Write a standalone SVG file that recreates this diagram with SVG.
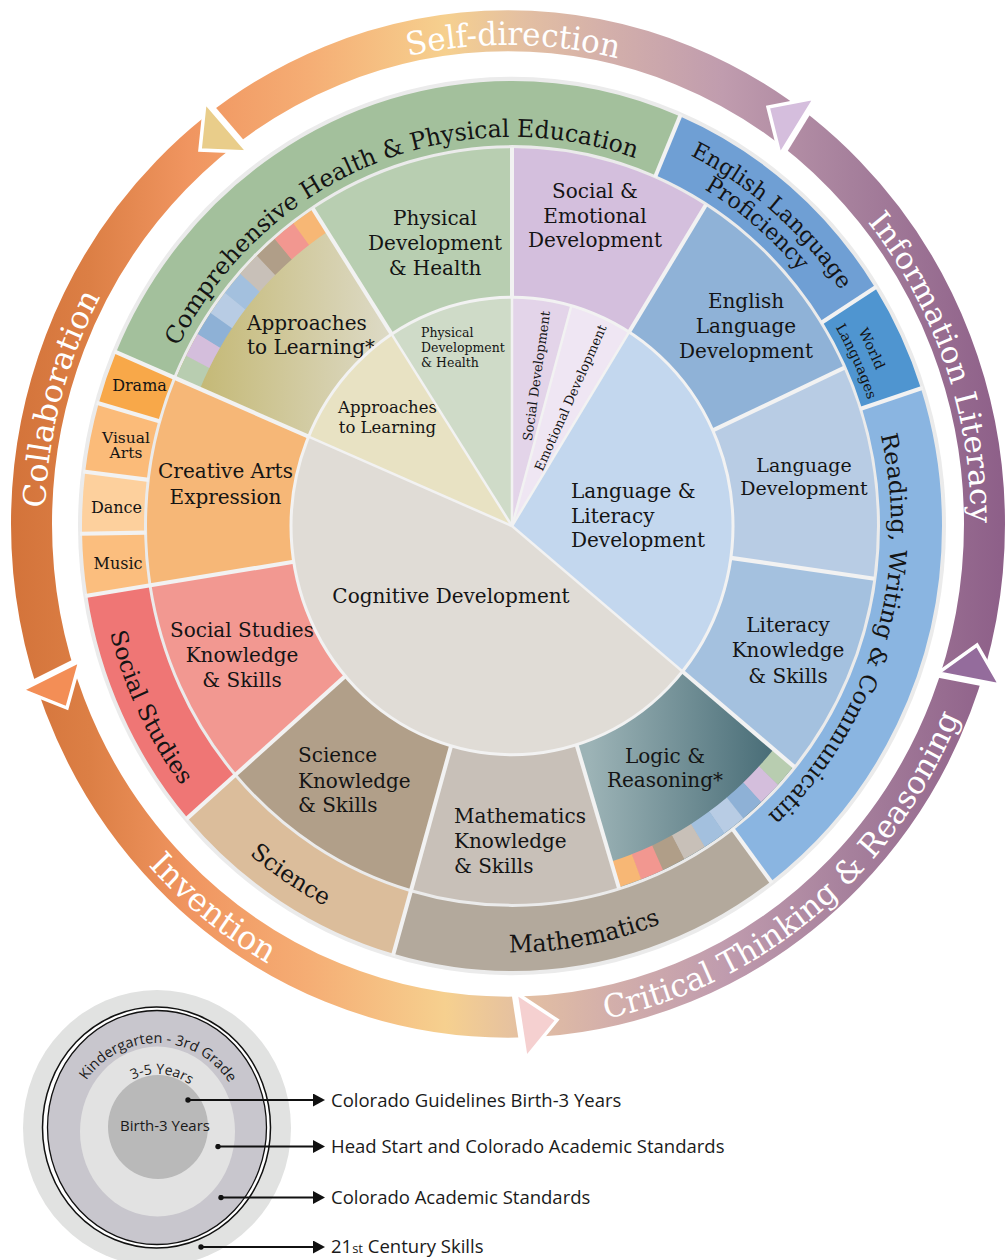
<svg xmlns="http://www.w3.org/2000/svg" width="1005" height="1260" viewBox="0 0 1005 1260">
<defs>
<style>
.s{font-family:"DejaVu Serif","Liberation Serif",serif;fill:#141414}
.w{font-family:"DejaVu Serif","Liberation Serif",serif;fill:#fff}
.l{font-family:"Open Sans",Lato,sans-serif;fill:#1a1a1a}
.m{font-size:20px;text-anchor:middle}
.f{font-size:20px}
.sm{font-size:16px;text-anchor:middle}
</style>
<linearGradient id="ringGrad" gradientUnits="userSpaceOnUse" x1="10" y1="0" x2="1000" y2="0">
<stop offset="0" stop-color="#d3733a"/>
<stop offset="0.08" stop-color="#dc7f45"/>
<stop offset="0.18" stop-color="#f09560"/>
<stop offset="0.3" stop-color="#f5ad74"/>
<stop offset="0.44" stop-color="#f6d08f"/>
<stop offset="0.52" stop-color="#e3bfa2"/>
<stop offset="0.6" stop-color="#d4b0aa"/>
<stop offset="0.72" stop-color="#c09cae"/>
<stop offset="0.85" stop-color="#a6809c"/>
<stop offset="1" stop-color="#8e6089"/>
</linearGradient>
<linearGradient id="appGrad" gradientUnits="userSpaceOnUse" x1="-317" y1="0" x2="-122" y2="0">
<stop offset="0" stop-color="#c4b874"/>
<stop offset="1" stop-color="#dddac6"/>
</linearGradient>
<linearGradient id="logGrad" gradientUnits="userSpaceOnUse" x1="78" y1="0" x2="258" y2="0">
<stop offset="0" stop-color="#9cb3b6"/>
<stop offset="1" stop-color="#4a6e78"/>
</linearGradient>
<path id="c110" fill="none" pathLength="360" d="M110.5,0 A110.5,110.5 0 1 1 -110.5,0 A110.5,110.5 0 1 1 110.5,0"/>
<path id="c293" fill="none" pathLength="360" d="M293,0 A293,293 0 1 1 -293,0 A293,293 0 1 1 293,0"/>
<path id="c352" fill="none" pathLength="360" d="M352,0 A352,352 0 1 1 -352,0 A352,352 0 1 1 352,0"/>
<path id="c399" fill="none" pathLength="360" d="M399,0 A399,399 0 1 1 -399,0 A399,399 0 1 1 399,0"/>
<path id="oCW" d="M0,463 A463,463 0 1 1 0,-463 A463,463 0 1 1 0,463"/>
<path id="oCCW" d="M0,-488 A488,488 0 1 0 0,488 A488,488 0 1 0 0,-488"/>
<path id="r376" d="M0,376 A376,376 0 1 1 0,-376 A376,376 0 1 1 0,376"/>
<path id="r378" d="M0,378 A378,378 0 1 1 0,-378 A378,378 0 1 1 0,378"/>
<path id="r379" d="M0,379 A379,379 0 1 1 0,-379 A379,379 0 1 1 0,379"/>
<path id="r394" d="M0,394 A394,394 0 1 1 0,-394 A394,394 0 1 1 0,394"/>
<path id="r400" d="M0,400 A400,400 0 1 1 0,-400 A400,400 0 1 1 0,400"/>
<path id="q412" d="M0,-412 A412,412 0 1 0 0,412 A412,412 0 1 0 0,-412"/>
<path id="q415" d="M0,-415 A415,415 0 1 0 0,415 A415,415 0 1 0 0,-415"/>
<path id="lgK" d="M157,1213 A85,85 0 1 1 157,1043 A85,85 0 1 1 157,1213"/>
<path id="lg35" d="M157,1186 A56,56 0 1 1 157,1074 A56,56 0 1 1 157,1186"/>
<marker id="ah" markerUnits="userSpaceOnUse" viewBox="0 0 12 13" refX="2" refY="6.5" markerWidth="12" markerHeight="13" orient="auto"><path d="M0,0 L12,6.5 L0,13 z" fill="#111"/></marker>
<marker id="dot" markerUnits="userSpaceOnUse" viewBox="0 0 6 6" refX="3" refY="3" markerWidth="6" markerHeight="6"><circle cx="3" cy="3" r="2.7" fill="#111"/></marker>
</defs>

<rect width="1005" height="1260" fill="#fff"/>

<!-- 21st century skills ring -->
<g id="skills-ring">
<ellipse cx="508" cy="524" rx="476.5" ry="493.2" fill="none" stroke="url(#ringGrad)" stroke-width="41"/>
</g>
<g id="skill-self-direction">
<text class="w" font-size="31" text-anchor="middle" transform="translate(508 524) scale(1 1.035)"><textPath href="#oCW" startOffset="50.17%">Self-direction</textPath></text>
<line x1="205" y1="102" x2="248" y2="152" stroke="#fff" stroke-width="9"/>
<polygon points="205,102 248,152 200,150" fill="#e9cd8a" stroke="#fff" stroke-width="3.5"/>
</g>
<g id="skill-collaboration">
<text class="w" font-size="31" text-anchor="middle" transform="translate(508 524) scale(1 1.035)"><textPath href="#oCW" startOffset="29.2%">Collaboration</textPath></text>
<line x1="22" y1="690" x2="80" y2="661" stroke="#fff" stroke-width="9"/>
<polygon points="22,690 80,661 67,708" fill="#f38e56" stroke="#fff" stroke-width="3.5"/>
</g>
<g id="skill-invention">
<text class="w" font-size="32" text-anchor="middle" transform="translate(508 524) scale(1 1.035)"><textPath href="#oCCW" startOffset="39.31%">Invention</textPath></text>
<line x1="516" y1="993" x2="526" y2="1058" stroke="#fff" stroke-width="9"/>
<polygon points="516,993 526,1058 557,1020" fill="#f5d0d0" stroke="#fff" stroke-width="3.5"/>
</g>
<g id="skill-critical-thinking">
<text class="w" font-size="31" text-anchor="middle" transform="translate(508 524) scale(1 1.035)"><textPath href="#oCCW" startOffset="60.99%">Critical Thinking &amp; Reasoning</textPath></text>
<line x1="938" y1="673" x2="1000" y2="685" stroke="#fff" stroke-width="9"/>
<polygon points="938,673 1000,685 977,645" fill="#946c9c" stroke="#fff" stroke-width="3.5"/>
</g>
<g id="skill-information-literacy">
<text class="w" font-size="30" text-anchor="middle" transform="translate(508 524) scale(1 1.035)"><textPath href="#oCW" startOffset="69.56%">Information Literacy</textPath></text>
<line x1="815" y1="98" x2="780" y2="155" stroke="#fff" stroke-width="9"/>
<polygon points="815,98 780,155 768,107" fill="#d5bedd" stroke="#fff" stroke-width="3.5"/>
</g>

<!-- wheel background -->
<circle cx="0" cy="0" r="434" fill="#ebebeb" transform="translate(512 526) scale(1 1.035)"/>

<!-- content areas ring -->
<g id="comprehensive-health-pe">
<use href="#c399" transform="translate(512 526) scale(1 1.035)" stroke="#a3c09c" stroke-width="62" stroke-dasharray="90 270" stroke-dashoffset="157"/>
<text class="s" font-size="23.5" text-anchor="middle" transform="translate(512 526) scale(1 1.035)"><textPath href="#r376" startOffset="43.97%">Comprehensive Health &amp; Physical Education</textPath></text>
</g>
<g id="english-language-proficiency">
<use href="#c399" transform="translate(512 526) scale(1 1.035)" stroke="#6f9fd4" stroke-width="62" stroke-dasharray="34.6 325.4" stroke-dashoffset="67"/>
<text class="s" font-size="22" text-anchor="middle" transform="translate(512 526) scale(1 1.035)"><textPath href="#r400" startOffset="61.36%">English Language</textPath></text>
<text class="s" font-size="22" text-anchor="middle" transform="translate(512 526) scale(1 1.035)"><textPath href="#r378" startOffset="61.11%">Proficiency</textPath></text>
</g>
<g id="world-languages">
<use href="#c399" transform="translate(512 526) scale(1 1.035)" stroke="#4f95d0" stroke-width="62" stroke-dasharray="14.4 345.6" stroke-dashoffset="32.4"/>
<text class="s" font-size="14" text-anchor="middle" transform="translate(512 526) scale(1 1.035)"><textPath href="#r394" startOffset="67.92%">World</textPath></text>
<text class="s" font-size="14" text-anchor="middle" transform="translate(512 526) scale(1 1.035)"><textPath href="#r376" startOffset="68.11%">Languages</textPath></text>
</g>
<g id="reading-writing-communication">
<use href="#c399" transform="translate(512 526) scale(1 1.035)" stroke="#8ab5e1" stroke-width="62" stroke-dasharray="71 289" stroke-dashoffset="18"/>
<text class="s" font-size="23" text-anchor="middle" transform="translate(512 526) scale(1 1.035)"><textPath href="#r379" startOffset="79.74%">Reading, Writing &amp; Communicatin</textPath></text>
</g>
<g id="mathematics">
<use href="#c399" transform="translate(512 526) scale(1 1.035)" stroke="#b3a99c" stroke-width="62" stroke-dasharray="53 307" stroke-dashoffset="307"/>
<text class="s" font-size="23.5" text-anchor="middle" transform="translate(512 526) scale(1 1.035)"><textPath href="#q412" startOffset="52.88%">Mathematics</textPath></text>
</g>
<g id="science">
<use href="#c399" transform="translate(512 526) scale(1 1.035)" stroke="#dbbd9b" stroke-width="62" stroke-dasharray="33 327" stroke-dashoffset="254"/>
<text class="s" font-size="23" text-anchor="middle" transform="translate(512 526) scale(1 1.035)"><textPath href="#q412" startOffset="40.75%">Science</textPath></text>
</g>
<g id="social-studies">
<use href="#c399" transform="translate(512 526) scale(1 1.035)" stroke="#ef7675" stroke-width="62" stroke-dasharray="32 328" stroke-dashoffset="221"/>
<text class="s" font-size="23" text-anchor="middle" transform="translate(512 526) scale(1 1.035)"><textPath href="#q415" startOffset="32.17%">Social Studies</textPath></text>
</g>
<g id="music">
<use href="#c399" transform="translate(512 526) scale(1 1.035)" stroke="#fbbe7e" stroke-width="62" stroke-dasharray="8 352" stroke-dashoffset="189"/>
<text class="s sm" x="118" y="569">Music</text>
</g>
<g id="dance">
<use href="#c399" transform="translate(512 526) scale(1 1.035)" stroke="#fdd09d" stroke-width="62" stroke-dasharray="8 352" stroke-dashoffset="181"/>
<text class="s sm" x="116.5" y="513">Dance</text>
</g>
<g id="visual-arts">
<use href="#c399" transform="translate(512 526) scale(1 1.035)" stroke="#fbbb79" stroke-width="62" stroke-dasharray="9 351" stroke-dashoffset="173"/>
<text class="s sm" style="font-size:15.5px"><tspan x="126" y="443">Visual</tspan><tspan x="126" y="458">Arts</tspan></text>
</g>
<g id="drama">
<use href="#c399" transform="translate(512 526) scale(1 1.035)" stroke="#f8a849" stroke-width="62" stroke-dasharray="7 353" stroke-dashoffset="164"/>
<text class="s sm" x="139.5" y="391">Drama</text>
</g>

<!-- middle ring -->
<g id="creative-arts-expression">
<use href="#c293" transform="translate(512 526) scale(1 1.035)" stroke="#f6b777" stroke-width="144" stroke-dasharray="32 328" stroke-dashoffset="189"/>
<text class="s m"><tspan x="225.5" y="478">Creative Arts</tspan><tspan x="225.5" y="504">Expression</tspan></text>
</g>
<g id="approaches-to-learning-star">
<use href="#c293" transform="translate(512 526) scale(1 1.035)" stroke="url(#appGrad)" stroke-width="144" stroke-dasharray="34 326" stroke-dashoffset="157"/>
<g transform="translate(512 526) scale(1 1.035)" stroke-width="26" stroke-dasharray="3.85 356.15">
<use href="#c352" stroke="#b8cdb0" stroke-dashoffset="157"/>
<use href="#c352" stroke="#d4bedc" stroke-dashoffset="153.222"/>
<use href="#c352" stroke="#8eb1d6" stroke-dashoffset="149.444"/>
<use href="#c352" stroke="#b8cce4" stroke-dashoffset="145.667"/>
<use href="#c352" stroke="#a3c0de" stroke-dashoffset="141.889"/>
<use href="#c352" stroke="#c8c0b8" stroke-dashoffset="138.111"/>
<use href="#c352" stroke="#b09e88" stroke-dashoffset="134.333"/>
<use href="#c352" stroke="#f29790" stroke-dashoffset="130.556"/>
<use href="#c352" stroke="#f7b775" stroke-dashoffset="126.778"/>
</g>
<text class="s f"><tspan x="247" y="330">Approaches</tspan><tspan x="247" y="354">to Learning*</tspan></text>
</g>
<g id="physical-development-health">
<use href="#c293" transform="translate(512 526) scale(1 1.035)" stroke="#b8ceb1" stroke-width="144" stroke-dasharray="33 327" stroke-dashoffset="123"/>
<text class="s m"><tspan x="435" y="225">Physical</tspan><tspan x="435" y="250">Development</tspan><tspan x="435" y="275">&amp; Health</tspan></text>
</g>
<g id="social-emotional-development">
<use href="#c293" transform="translate(512 526) scale(1 1.035)" stroke="#d4bfdd" stroke-width="144" stroke-dasharray="32 328" stroke-dashoffset="90"/>
<text class="s m"><tspan x="595" y="198">Social &amp;</tspan><tspan x="595" y="223">Emotional</tspan><tspan x="595" y="247">Development</tspan></text>
</g>
<g id="english-language-development">
<use href="#c293" transform="translate(512 526) scale(1 1.035)" stroke="#8fb2d7" stroke-width="144" stroke-dasharray="33.3 326.7" stroke-dashoffset="58"/>
<text class="s m"><tspan x="746" y="308">English</tspan><tspan x="746" y="333">Language</tspan><tspan x="746" y="358">Development</tspan></text>
</g>
<g id="language-development">
<use href="#c293" transform="translate(512 526) scale(1 1.035)" stroke="#b8cce4" stroke-width="144" stroke-dasharray="32.7 327.3" stroke-dashoffset="24.7"/>
<text class="s m" style="font-size:19px"><tspan x="804" y="472">Language</tspan><tspan x="804" y="495">Development</tspan></text>
</g>
<g id="literacy-knowledge-skills">
<use href="#c293" transform="translate(512 526) scale(1 1.035)" stroke="#a4c1df" stroke-width="144" stroke-dasharray="31.5 328.5" stroke-dashoffset="352"/>
<text class="s m"><tspan x="788" y="632">Literacy</tspan><tspan x="788" y="657">Knowledge</tspan><tspan x="788" y="683">&amp; Skills</tspan></text>
</g>
<g id="logic-reasoning-star">
<use href="#c293" transform="translate(512 526) scale(1 1.035)" stroke="url(#logGrad)" stroke-width="144" stroke-dasharray="33.5 326.5" stroke-dashoffset="320.5"/>
<g transform="translate(512 526) scale(1 1.035)" stroke-width="26" stroke-dasharray="3.8 356.2">
<use href="#c352" stroke="#b8cdb0" stroke-dashoffset="320.5"/>
<use href="#c352" stroke="#d4bedc" stroke-dashoffset="316.778"/>
<use href="#c352" stroke="#8eb1d6" stroke-dashoffset="313.056"/>
<use href="#c352" stroke="#b8cce4" stroke-dashoffset="309.333"/>
<use href="#c352" stroke="#a3c0de" stroke-dashoffset="305.611"/>
<use href="#c352" stroke="#c8c0b8" stroke-dashoffset="301.889"/>
<use href="#c352" stroke="#b09e88" stroke-dashoffset="298.167"/>
<use href="#c352" stroke="#f29790" stroke-dashoffset="294.444"/>
<use href="#c352" stroke="#f7b775" stroke-dashoffset="290.722"/>
</g>
<text class="s m"><tspan x="665" y="763">Logic &amp;</tspan><tspan x="665" y="787">Reasoning*</tspan></text>
</g>
<g id="mathematics-knowledge-skills">
<use href="#c293" transform="translate(512 526) scale(1 1.035)" stroke="#c8c0b8" stroke-width="144" stroke-dasharray="33 327" stroke-dashoffset="287"/>
<text class="s f"><tspan x="454" y="823">Mathematics</tspan><tspan x="454" y="848">Knowledge</tspan><tspan x="454" y="873">&amp; Skills</tspan></text>
</g>
<g id="science-knowledge-skills">
<use href="#c293" transform="translate(512 526) scale(1 1.035)" stroke="#b19f89" stroke-width="144" stroke-dasharray="33 327" stroke-dashoffset="254"/>
<text class="s f"><tspan x="298" y="762">Science</tspan><tspan x="298" y="788">Knowledge</tspan><tspan x="298" y="812">&amp; Skills</tspan></text>
</g>
<g id="social-studies-knowledge-skills">
<use href="#c293" transform="translate(512 526) scale(1 1.035)" stroke="#f29891" stroke-width="144" stroke-dasharray="32 328" stroke-dashoffset="221"/>
<text class="s m"><tspan x="242" y="637">Social Studies</tspan><tspan x="242" y="662">Knowledge</tspan><tspan x="242" y="687">&amp; Skills</tspan></text>
</g>

<!-- inner circle (birth-3) -->
<g id="cognitive-development">
<use href="#c110" transform="translate(512 526) scale(1 1.035)" stroke="#e0dcd6" stroke-width="221" stroke-dasharray="163.5 196.5" stroke-dashoffset="320.5"/>
<text class="s m" x="451" y="603">Cognitive Development</text>
</g>
<g id="approaches-to-learning">
<use href="#c110" transform="translate(512 526) scale(1 1.035)" stroke="#e8e2c3" stroke-width="221" stroke-dasharray="34 326" stroke-dashoffset="157"/>
<text class="s" style="font-size:16.5px;text-anchor:middle"><tspan x="387.5" y="413">Approaches</tspan><tspan x="387.5" y="433">to Learning</tspan></text>
</g>
<g id="physical-development-health-inner">
<use href="#c110" transform="translate(512 526) scale(1 1.035)" stroke="#cfdbc8" stroke-width="221" stroke-dasharray="33 327" stroke-dashoffset="123"/>
<text class="s" style="font-size:12.5px"><tspan x="421" y="337">Physical</tspan><tspan x="421" y="352">Development</tspan><tspan x="421" y="367">&amp; Health</tspan></text>
</g>
<g id="social-development">
<use href="#c110" transform="translate(512 526) scale(1 1.035)" stroke="#e3d4e9" stroke-width="221" stroke-dasharray="15.6 344.4" stroke-dashoffset="90"/>
<text class="s" style="font-size:13px;text-anchor:middle" transform="translate(537 376) rotate(-82)" dy="4">Social Development</text>
</g>
<g id="emotional-development">
<use href="#c110" transform="translate(512 526) scale(1 1.035)" stroke="#efe6f3" stroke-width="221" stroke-dasharray="16.4 343.6" stroke-dashoffset="74.4"/>
<text class="s" style="font-size:13px;text-anchor:middle" transform="translate(571 398) rotate(-66)" dy="4">Emotional Development</text>
</g>
<g id="language-literacy-development">
<use href="#c110" transform="translate(512 526) scale(1 1.035)" stroke="#c3d7ee" stroke-width="221" stroke-dasharray="97.5 262.5" stroke-dashoffset="58"/>
<text class="s f"><tspan x="571" y="498">Language &amp;</tspan><tspan x="571" y="523">Literacy</tspan><tspan x="571" y="547">Development</tspan></text>
</g>

<!-- separators -->
<g id="separators" transform="translate(512 526) scale(1 1.035)" stroke="#f2f2f2" fill="none">
<g stroke-width="2.5">
<line x2="221" transform="rotate(39.5)"/>
<line x2="221" transform="rotate(203)"/>
<line x2="221" transform="rotate(237)"/>
<line x2="221" transform="rotate(270)"/>
<line x2="221" transform="rotate(285.6)"/>
<line x2="221" transform="rotate(302)"/>
</g>
<circle r="221" stroke-width="3"/>
<g stroke-width="4">
<line x1="221" x2="366" transform="rotate(8)"/>
<line x1="221" x2="366" transform="rotate(39.5)"/>
<line x1="221" x2="366" transform="rotate(73)"/>
<line x1="221" x2="366" transform="rotate(106)"/>
<line x1="221" x2="366" transform="rotate(139)"/>
<line x1="221" x2="366" transform="rotate(171)"/>
<line x1="221" x2="366" transform="rotate(203)"/>
<line x1="221" x2="366" transform="rotate(237)"/>
<line x1="221" x2="366" transform="rotate(270)"/>
<line x1="221" x2="366" transform="rotate(302)"/>
<line x1="221" x2="366" transform="rotate(335.3)"/>
<line x1="366" x2="432" transform="rotate(53)"/>
<line x1="366" x2="432" transform="rotate(106)"/>
<line x1="366" x2="432" transform="rotate(139)"/>
<line x1="366" x2="432" transform="rotate(171)"/>
<line x1="366" x2="432" transform="rotate(179)"/>
<line x1="366" x2="432" transform="rotate(187)"/>
<line x1="366" x2="432" transform="rotate(196)"/>
<line x1="366" x2="432" transform="rotate(203)"/>
<line x1="366" x2="432" transform="rotate(293)"/>
<line x1="366" x2="432" transform="rotate(327.6)"/>
<line x1="366" x2="432" transform="rotate(342)"/>
</g>
</g>

<!-- legend -->
<g id="legend-rings">
<ellipse cx="157" cy="1128" rx="134" ry="138" fill="#e1e2e1"/>
<ellipse cx="156.5" cy="1127.5" rx="114" ry="120.5" fill="#fff" stroke="#111" stroke-width="1.5"/>
<ellipse cx="157" cy="1127.5" rx="109.5" ry="117" fill="#c8c6cd" stroke="#111" stroke-width="1.3"/>
<ellipse cx="157.5" cy="1131.5" rx="77.5" ry="85" fill="#e2e2e2"/>
<ellipse cx="158" cy="1127" rx="50" ry="52" fill="#b9b9b9"/>
<text class="l" font-size="14.5" text-anchor="middle"><textPath href="#lgK" startOffset="50.28%">Kindergarten - 3rd Grade</textPath></text>
<text class="l" font-size="14" text-anchor="middle"><textPath href="#lg35" startOffset="51.4%">3-5 Years</textPath></text>
<text class="l" font-size="15" text-anchor="middle" x="165" y="1131">Birth-3 Years</text>
</g>
<g id="connectors" stroke="#111" stroke-width="2" fill="none">
<line x1="188" y1="1100" x2="315" y2="1100" marker-start="url(#dot)" marker-end="url(#ah)"/>
<line x1="218" y1="1146.5" x2="315" y2="1146.5" marker-start="url(#dot)" marker-end="url(#ah)"/>
<line x1="221" y1="1197.5" x2="315" y2="1197.5" marker-start="url(#dot)" marker-end="url(#ah)"/>
<line x1="201" y1="1247" x2="315" y2="1247" marker-start="url(#dot)" marker-end="url(#ah)"/>
</g>
<g id="legend-labels">
<text class="l" font-size="18.5" x="331" y="1107">Colorado Guidelines Birth-3 Years</text>
<text class="l" font-size="18.5" x="331" y="1153">Head Start and Colorado Academic Standards</text>
<text class="l" font-size="18.5" x="331" y="1204">Colorado Academic Standards</text>
<text class="l" font-size="18.5" x="331" y="1253">21<tspan font-size="13">st</tspan> Century Skills</text>
</g>
</svg>
